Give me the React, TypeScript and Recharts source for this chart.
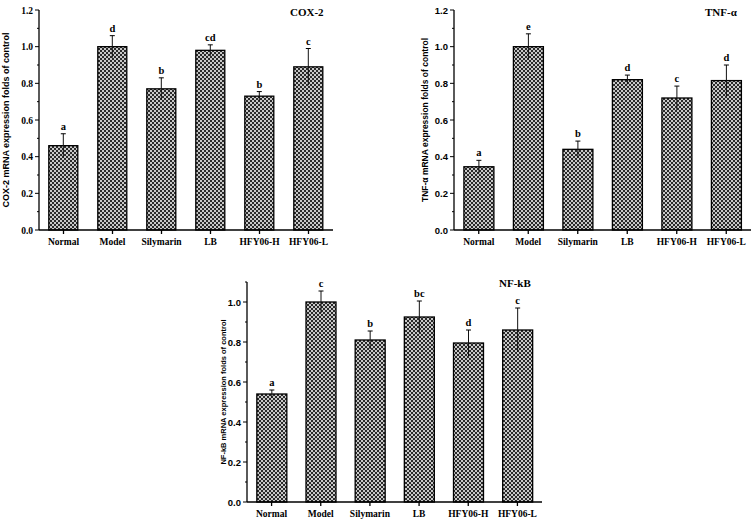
import React from "react";
import { BarChart, Bar, XAxis, YAxis, LabelList } from "recharts";

const groups = ["Normal", "Model", "Silymarin", "LB", "HFY06-H", "HFY06-L"];

const coxValues = [0.46, 1.0, 0.77, 0.98, 0.73, 0.89];
const coxErrors = [0.065, 0.06, 0.06, 0.03, 0.025, 0.1];
const coxLetters = ["a", "d", "b", "cd", "b", "c"];

const tnfValues = [0.345, 1.0, 0.44, 0.82, 0.72, 0.815];
const tnfErrors = [0.035, 0.07, 0.045, 0.025, 0.065, 0.085];
const tnfLetters = ["a", "e", "b", "d", "c", "d"];

const nfkbValues = [0.54, 1.0, 0.81, 0.925, 0.795, 0.86];
const nfkbErrors = [0.02, 0.055, 0.045, 0.08, 0.065, 0.11];
const nfkbLetters = ["a", "c", "b", "bc", "d", "c"];

const ticksTop = [0, 0.1, 0.2, 0.3, 0.4, 0.5, 0.6, 0.7, 0.8, 0.9, 1.0, 1.1, 1.2];
const ticksBottom = [0, 0.1, 0.2, 0.3, 0.4, 0.5, 0.6, 0.7, 0.8, 0.9, 1.0, 1.1];

const SERIF = "'Liberation Serif', 'Times New Roman', serif";
const SANS = "'Liberation Sans', Arial, sans-serif";

function makeRows(values: number[], errors: number[], letters: string[]) {
  return groups.map((g, i) => ({ name: g, value: values[i], err: errors[i], letter: letters[i] }));
}

function makeYTick(font: string, size: number, maxLabel: number) {
  return (props: any) => {
    const { x, y, payload } = props;
    const v = payload.value;
    const major = Math.round(v * 10) % 2 === 0;
    return (
      <g>
        <line x1={x} x2={x - (major ? 4 : 2)} y1={y} y2={y} stroke="#000" strokeWidth={1} />
        {major && v <= maxLabel + 1e-6 && (
          <text x={x - 6} y={y} dy={3.5} textAnchor="end" fontFamily={font} fontWeight="bold" fontSize={size} fill="#000">
            {v.toFixed(1)}
          </text>
        )}
      </g>
    );
  };
}

// bar with the error whisker: cap only on top, lower half runs into the hatch
function BarWithError(props: any) {
  const { x, y, width, height, payload } = props;
  const perUnit = height / payload.value;
  const cx = x + width / 2;
  const hi = y - payload.err * perUnit;
  const lo = y + payload.err * perUnit;
  return (
    <g>
      <rect x={x} y={y} width={width} height={height} fill="url(#checker)" stroke="#000" strokeWidth={1.3} />
      <line x1={cx} x2={cx} y1={hi} y2={lo} stroke="#111" strokeWidth={1} />
      <line x1={cx - 2.5} x2={cx + 2.5} y1={hi} y2={hi} stroke="#000" strokeWidth={1} />
    </g>
  );
}

function makeLetterLabel(rows: any[]) {
  return (props: any) => {
    const { x, y, width, height, index } = props;
    const row = rows[index];
    const perUnit = height / row.value;
    const top = y - row.err * perUnit;
    return (
      <text x={x + width / 2} y={top - 4} textAnchor="middle" fontFamily={SERIF} fontWeight="bold" fontSize={10.5} fill="#000">
        {row.letter}
      </text>
    );
  };
}

type PanelProps = {
  rows: any[];
  left: number;
  top: number;
  domainMax: number;
  ticks: number[];
  tickFont: string;
  maxLabel: number;
  yLabel: string;
  yLabelSize: number;
  yLabelDx: number;
  title: string;
  titleX: number;
  titleY: number;
  yAxisWidth: number;
  rightMargin: number;
};

function Panel(p: PanelProps) {
  return (
    <div style={{ position: "absolute", left: p.left, top: p.top, width: 340, height: 260 }}>
      <BarChart
        width={340}
        height={260}
        data={p.rows}
        margin={{ top: 10, right: p.rightMargin, left: 0, bottom: 0 }}
        barCategoryGap="20%"
      >
        <XAxis
          dataKey="name"
          height={30}
          tickSize={4}
          tickMargin={4}
          stroke="#000"
          strokeWidth={1.3}
          interval={0}
          tick={{ fontFamily: SERIF, fontWeight: "bold", fontSize: 9.5, fill: "#000" }}
        />
        <YAxis
          width={p.yAxisWidth}
          domain={[0, p.domainMax]}
          ticks={p.ticks}
          interval={0}
          tickSize={0}
          tickMargin={0}
          tickLine={false}
          stroke="#000"
          strokeWidth={1.3}
          tick={makeYTick(p.tickFont, 9.5, p.maxLabel)}
          label={{
            value: p.yLabel,
            angle: -90,
            position: "center",
            dx: p.yLabelDx,
            style: { fontFamily: SANS, fontWeight: "bold", fontSize: p.yLabelSize, fill: "#000", textAnchor: "middle" },
          }}
        />
        <Bar dataKey="value" shape={BarWithError} isAnimationActive={false}>
          <LabelList dataKey="letter" content={makeLetterLabel(p.rows)} />
        </Bar>
      </BarChart>
      <div
        style={{
          position: "absolute",
          left: p.titleX,
          top: p.titleY,
          fontFamily: SERIF,
          fontWeight: "bold",
          fontSize: 11,
          lineHeight: "12px",
          whiteSpace: "nowrap",
        }}
      >
        {p.title}
      </div>
    </div>
  );
}

export default function App() {
  const cox = makeRows(coxValues, coxErrors, coxLetters);
  const tnf = makeRows(tnfValues, tnfErrors, tnfLetters);
  const nfkb = makeRows(nfkbValues, nfkbErrors, nfkbLetters);
  return (
    <div style={{ position: "absolute", left: 0, top: 0, width: 756, height: 526, background: "#fff", overflow: "hidden" }}>
      <svg width={0} height={0} style={{ position: "absolute" }}>
        <defs>
          <pattern id="checker" width={4} height={4} patternUnits="userSpaceOnUse">
            <rect x={0} y={0} width={4} height={4} fill="#2a2a2a" />
            <rect x={0} y={0} width={2} height={2} fill="#c8c8c8" />
            <rect x={2} y={2} width={2} height={2} fill="#c8c8c8" />
          </pattern>
        </defs>
      </svg>
      <Panel
        rows={cox}
        left={0}
        top={0}
        domainMax={1.2}
        ticks={ticksTop}
        tickFont={SERIF}
        maxLabel={1.2}
        yLabel="COX-2 mRNA expression folds of control"
        yLabelSize={9}
        yLabelDx={-14}
        title="COX-2"
        titleX={290}
        titleY={6}
        yAxisWidth={39}
        rightMargin={7}
      />
      <Panel
        rows={tnf}
        left={415}
        top={0}
        domainMax={1.2}
        ticks={ticksTop}
        tickFont={SANS}
        maxLabel={1.2}
        yLabel="TNF-α mRNA expression folds of control"
        yLabelSize={8.5}
        yLabelDx={-10}
        title="TNF-α"
        titleX={290}
        titleY={6}
        yAxisWidth={39}
        rightMargin={4}
      />
      <Panel
        rows={nfkb}
        left={205}
        top={272}
        domainMax={1.1}
        ticks={ticksBottom}
        tickFont={SANS}
        maxLabel={1.0}
        yLabel="NF-kB mRNA expression folds of control"
        yLabelSize={7.5}
        yLabelDx={-3}
        title="NF-kB"
        titleX={294}
        titleY={5}
        yAxisWidth={42}
        rightMargin={3}
      />
    </div>
  );
}
